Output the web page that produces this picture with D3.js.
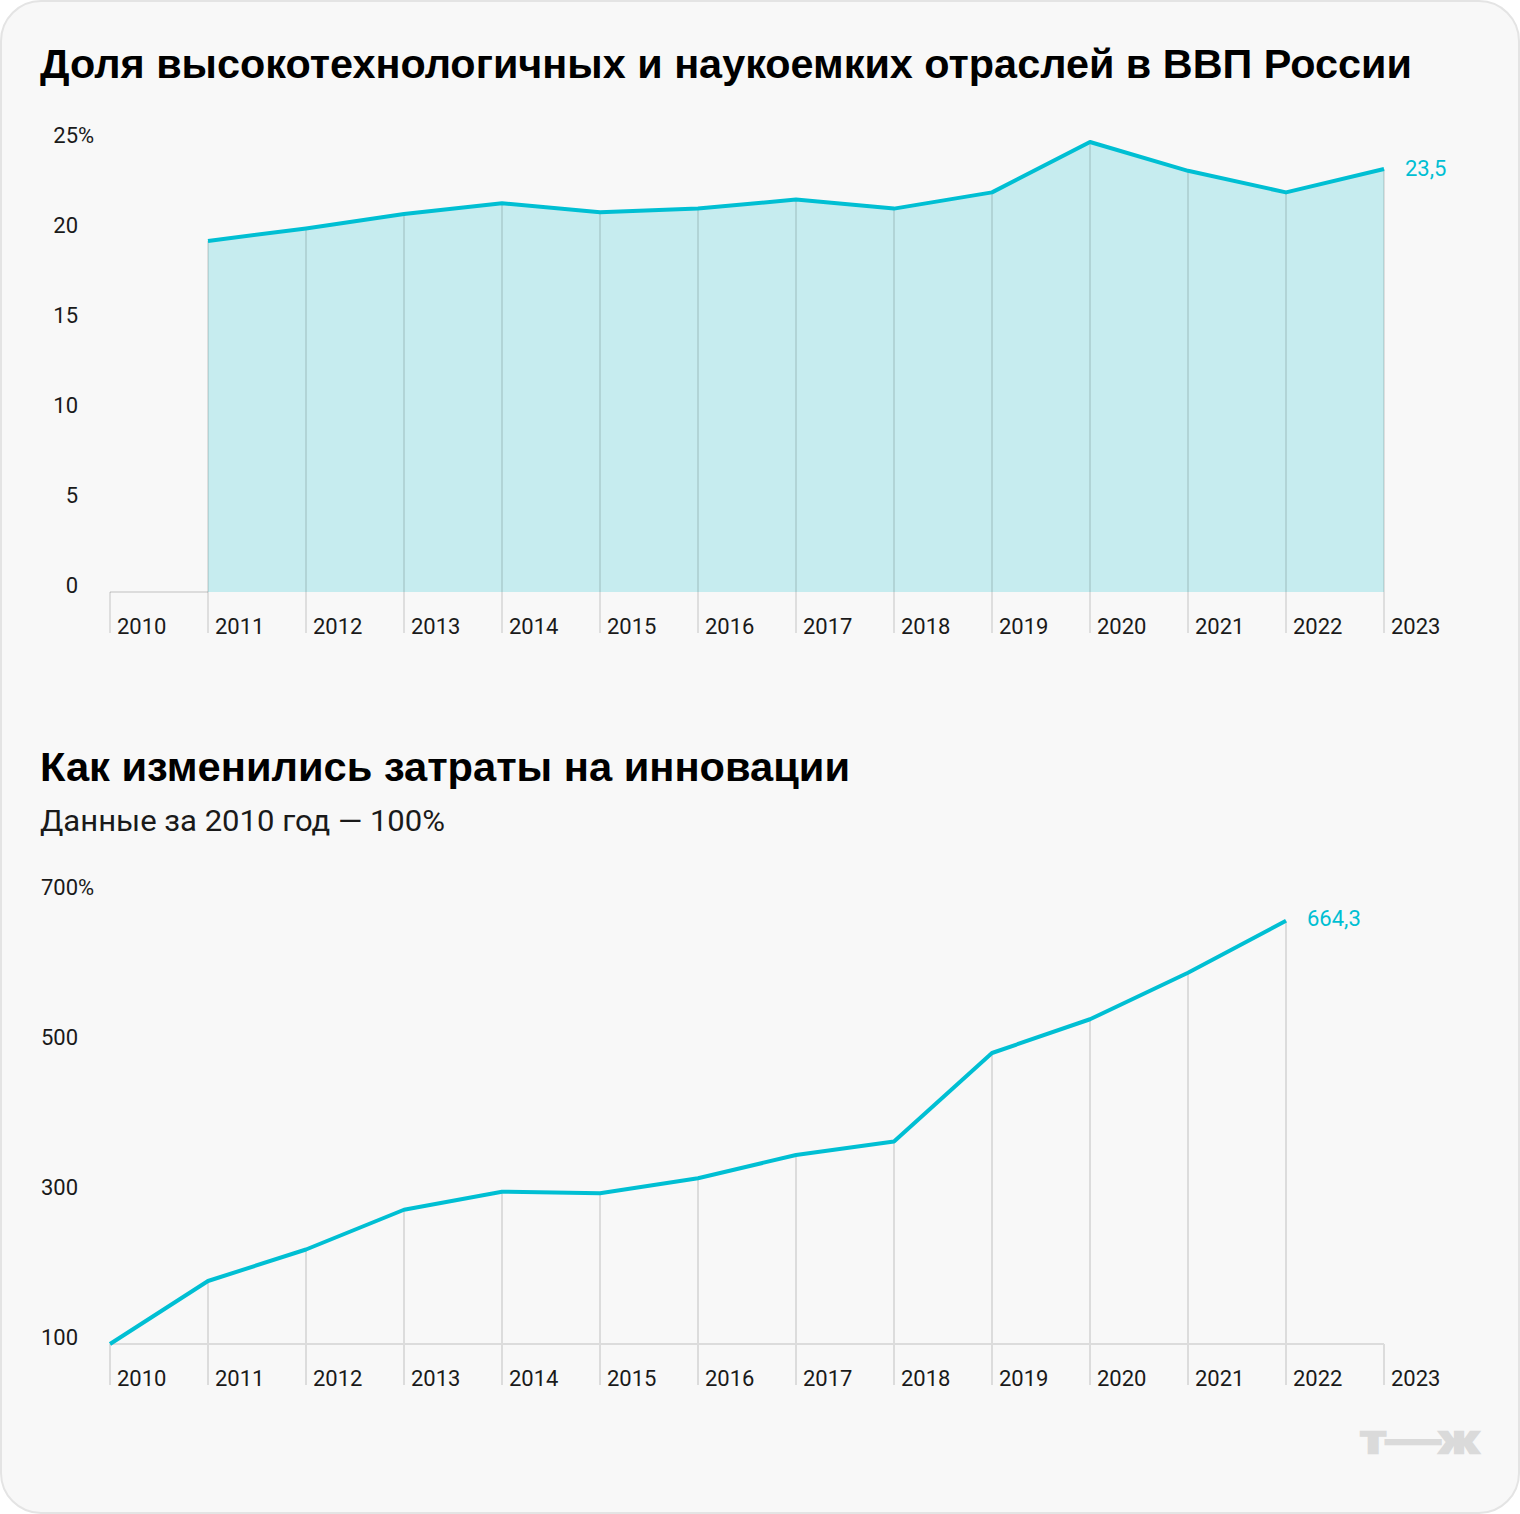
<!DOCTYPE html>
<html><head><meta charset="utf-8">
<script src="https://cdn.jsdelivr.net/npm/d3@7"></script>
<style>
html,body{margin:0;padding:0;background:#fff;}
svg{display:block;}
</style></head>
<body>
<svg id="chart" width="1520" height="1514"></svg>
<script>
const years = [2010,2011,2012,2013,2014,2015,2016,2017,2018,2019,2020,2021,2022,2023];
const shareYears = [2011,2012,2013,2014,2015,2016,2017,2018,2019,2020,2021,2022,2023];
const shareValues = [19.5,20.2,21.0,21.6,21.1,21.3,21.8,21.3,22.2,25.0,23.4,22.2,23.5];
const shareTicks = [0,5,10,15,20,25];
const costYears = [2010,2011,2012,2013,2014,2015,2016,2017,2018,2019,2020,2021,2022];
const costValues = [100,184,226,279,303,301,321,352,370,488,533,595,664.3];
const costTicks = [100,300,500,700];
const title1 = "Доля высокотехнологичных и наукоемких отраслей в ВВП России";
const title2 = "Как изменились затраты на инновации";
const subtitle2 = "Данные за 2010 год — 100%";

const TEAL = "#00bfd3", FILL = "#c6ecef", GRID = "#dcdcdc", TXT = "#1a1a1a";
const FS = 22;
const svg = d3.select("#chart");

svg.append("rect").attr("x",1).attr("y",1).attr("width",1518).attr("height",1512)
  .attr("rx",40).attr("fill","#f8f8f8").attr("stroke","#e4e4e4").attr("stroke-width",2);

const x = d3.scaleLinear().domain([2010,2023]).range([110,1384]);
const fmt = v => String(v).replace(".", ",");

// ---------- Chart 1 ----------
svg.append("text").attr("x",40).attr("y",78).text(title1)
  .attr("font-family","Liberation Sans, Arial, sans-serif").attr("font-weight","bold")
  .attr("font-size",40).attr("fill","#000").attr("textLength",1372).attr("lengthAdjust","spacingAndGlyphs");

const y1 = d3.scaleLinear().domain([0,25]).range([592,142]);
const d1 = shareYears.map((yr,i)=>({yr, v:shareValues[i]}));

const g1 = svg.append("g");
g1.append("path").datum(d1)
  .attr("d", d3.area().x(d=>x(d.yr)).y0(y1(0)).y1(d=>y1(d.v)))
  .attr("fill", FILL);
g1.append("line").attr("x1",x(2010)).attr("x2",x(2011)).attr("y1",y1(0)).attr("y2",y1(0))
  .attr("stroke",GRID).attr("stroke-width",2);
g1.selectAll(".vg").data(years).enter().append("line")
  .attr("x1",d=>x(d)).attr("x2",d=>x(d))
  .attr("y1",d=>{const f=d1.find(o=>o.yr===d); return f? y1(f.v): y1(0);})
  .attr("y2",633).attr("stroke","rgba(0,0,0,0.1)").attr("stroke-width",2);
g1.append("path").datum(d1)
  .attr("d", d3.line().x(d=>x(d.yr)).y(d=>y1(d.v)))
  .attr("fill","none").attr("stroke",TEAL).attr("stroke-width",4).attr("stroke-linejoin","round");
shareTicks.forEach(t=>{
  g1.append("text").attr("x",78).attr("y",y1(t)+1).attr("text-anchor","end").text(t)
    .attr("font-family","Roboto, sans-serif").attr("font-size",FS).attr("fill",TXT);
  if (t===25) g1.append("text").attr("x",78).attr("y",y1(t)+1).text("%")
    .attr("font-family","Roboto, sans-serif").attr("font-size",FS).attr("fill",TXT);
});
years.forEach(yr=>{
  g1.append("text").attr("x",x(yr)+7).attr("y",634).text(yr)
    .attr("font-family","Roboto, sans-serif").attr("font-size",FS).attr("fill",TXT);
});
const last1 = d1[d1.length-1];
g1.append("text").attr("x",x(last1.yr)+21).attr("y",y1(last1.v)+7).text(fmt(last1.v))
  .attr("font-family","Roboto, sans-serif").attr("font-size",FS).attr("fill",TEAL);

// ---------- Chart 2 ----------
svg.append("text").attr("x",40).attr("y",781).text(title2)
  .attr("font-family","Liberation Sans, Arial, sans-serif").attr("font-weight","bold")
  .attr("font-size",40).attr("fill","#000").attr("textLength",810).attr("lengthAdjust","spacingAndGlyphs");
svg.append("text").attr("x",40).attr("y",831).text(subtitle2)
  .attr("font-family","Roboto, sans-serif").attr("font-size",30).attr("fill",TXT)
  .attr("textLength",405).attr("lengthAdjust","spacingAndGlyphs");

const y2 = d3.scaleLinear().domain([100,700]).range([1344,894]);
const d2 = costYears.map((yr,i)=>({yr, v:costValues[i]}));
const g2 = svg.append("g");
g2.append("line").attr("x1",x(2010)).attr("x2",x(2023)).attr("y1",y2(100)).attr("y2",y2(100))
  .attr("stroke",GRID).attr("stroke-width",2);
g2.selectAll(".vg").data(years).enter().append("line")
  .attr("x1",d=>x(d)).attr("x2",d=>x(d))
  .attr("y1",d=>{const f=d2.find(o=>o.yr===d); return f? y2(f.v): y2(100);})
  .attr("y2",1385).attr("stroke",GRID).attr("stroke-width",2);
g2.append("path").datum(d2)
  .attr("d", d3.line().x(d=>x(d.yr)).y(d=>y2(d.v)))
  .attr("fill","none").attr("stroke",TEAL).attr("stroke-width",4).attr("stroke-linejoin","round");
costTicks.forEach(t=>{
  g2.append("text").attr("x",78).attr("y",y2(t)+1).attr("text-anchor","end").text(t)
    .attr("font-family","Roboto, sans-serif").attr("font-size",FS).attr("fill",TXT);
  if (t===700) g2.append("text").attr("x",78).attr("y",y2(t)+1).text("%")
    .attr("font-family","Roboto, sans-serif").attr("font-size",FS).attr("fill",TXT);
});
years.forEach(yr=>{
  g2.append("text").attr("x",x(yr)+7).attr("y",1386).text(yr)
    .attr("font-family","Roboto, sans-serif").attr("font-size",FS).attr("fill",TXT);
});
const last2 = d2[d2.length-1];
g2.append("text").attr("x",x(last2.yr)+21).attr("y",y2(last2.v)+5).text(fmt(last2.v))
  .attr("font-family","Roboto, sans-serif").attr("font-size",FS).attr("fill",TEAL);

// logo
svg.append("text").attr("x",1360).attr("y",1453).text("т—ж")
  .attr("font-family","Liberation Sans, Arial, sans-serif").attr("font-weight","bold")
  .attr("font-size",38).attr("fill","#dadada").attr("stroke","#dadada").attr("stroke-width",2.5)
  .attr("textLength",118).attr("lengthAdjust","spacingAndGlyphs");
</script>
</body></html>
